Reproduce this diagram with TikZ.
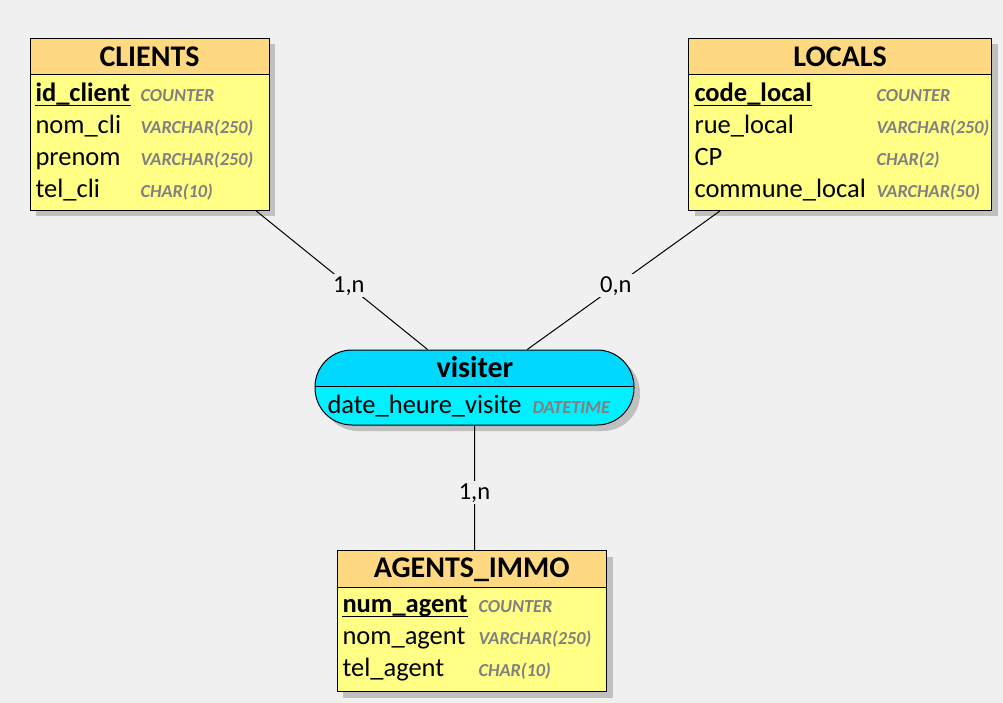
\documentclass[tikz,border=0pt]{standalone}
\usepackage{fontspec}
\setmainfont{Carlito}
\usetikzlibrary{shadows}

\definecolor{bgcolor}{HTML}{F0F0F0}
\definecolor{headorange}{HTML}{FFD982}
\definecolor{bodyyellow}{HTML}{FFFF86}
\definecolor{relhead}{HTML}{00D8FF}
\definecolor{relbody}{HTML}{00F0FF}
\definecolor{shadowgray}{HTML}{C0C0C0}
\definecolor{typegray}{HTML}{808080}

\begin{document}
\begin{tikzpicture}[x=1pt,y=-1pt,line width=1pt,
    shade/.style={drop shadow={shadow xshift=6pt, shadow yshift=-6pt, fill=shadowgray, opacity=1}},
    entity/.style={draw, fill=bodyyellow, shade,
        path picture={
            \fill[headorange, sharp corners] (path picture bounding box.north west) rectangle ([yshift=-36.5pt]path picture bounding box.north east);
            \draw[sharp corners] ([yshift=-36.5pt]path picture bounding box.north west) -- ([yshift=-36.5pt]path picture bounding box.north east);}},
    relation/.style={draw, fill=relbody, rounded corners=37pt, shade,
        path picture={
            \fill[relhead, sharp corners] (path picture bounding box.north west) rectangle ([yshift=-36.5pt]path picture bounding box.north east);
            \draw[sharp corners] ([yshift=-36.5pt]path picture bounding box.north west) -- ([yshift=-36.5pt]path picture bounding box.north east);}},
    title/.style={anchor=base, inner sep=0pt, font=\fontsize{30}{32}\selectfont\bfseries},
    attr/.style={anchor=base west, inner sep=0pt, font=\fontsize{26.5}{29}\selectfont},
    key/.style={attr, font=\fontsize{26.5}{29}\selectfont\bfseries},
    type/.style={anchor=base west, inner sep=0pt, text=typegray, font=\fontsize{18.3}{20}\selectfont\bfseries\itshape},
    card/.style={fill=bgcolor, inner sep=2pt, pos=.54, font=\fontsize{24.5}{26}\selectfont}]

    \fill[bgcolor] (0,0) rectangle (1003,703);
    \useasboundingbox (0,0) rectangle (1003,703);

    % CLIENTS
    \node[entity, minimum width=239pt, minimum height=172pt] (clients) at (149.5,124.5) {};
    \node[title] (clients-title) at (149.5,67) {CLIENTS};
    \node[key]  (id-client) at (35,102) {id\_client};
    \node[attr] (nom-cli) at ([yshift=-32pt]id-client.base west) {nom\_cli};
    \node[attr] (prenom)  at ([yshift=-32pt]nom-cli.base west) {prenom};
    \node[attr] (tel-cli) at ([yshift=-32pt]prenom.base west) {tel\_cli};
    \node[type] (id-client-t) at (140,102) {COUNTER};
    \node[type] (nom-cli-t) at ([yshift=-32pt]id-client-t.base west) {VARCHAR(250)};
    \node[type] (prenom-t)  at ([yshift=-32pt]nom-cli-t.base west) {VARCHAR(250)};
    \node[type] (tel-cli-t) at ([yshift=-32pt]prenom-t.base west) {CHAR(10)};
    \draw ([yshift=-4pt]id-client.base west) -- ([yshift=-4pt]id-client.base east);

    % LOCALS
    \node[entity, minimum width=303pt, minimum height=172pt] (locals) at (840,124.5) {};
    \node[title] (locals-title) at (840,67) {LOCALS};
    \node[key]  (code-local) at (694,102) {code\_local};
    \node[attr] (rue-local) at ([yshift=-32pt]code-local.base west) {rue\_local};
    \node[attr] (cp)        at ([yshift=-32pt]rue-local.base west) {CP};
    \node[attr] (commune-local) at ([yshift=-32pt]cp.base west) {commune\_local};
    \node[type] (code-local-t) at (876,102) {COUNTER};
    \node[type] (rue-local-t) at ([yshift=-32pt]code-local-t.base west) {VARCHAR(250)};
    \node[type] (cp-t)        at ([yshift=-32pt]rue-local-t.base west) {CHAR(2)};
    \node[type] (commune-local-t) at ([yshift=-32pt]cp-t.base west) {VARCHAR(50)};
    \draw ([yshift=-4pt]code-local.base west) -- ([yshift=-4pt]code-local.base east);

    % AGENTS_IMMO
    \node[entity, minimum width=269.5pt, minimum height=141pt] (agents) at (471.75,621) {};
    \node[title] (agents-title) at (471.75,577) {AGENTS\_IMMO};
    \node[key]  (num-agent) at (342,612) {num\_agent};
    \node[attr] (nom-agent) at ([yshift=-32pt]num-agent.base west) {nom\_agent};
    \node[attr] (tel-agent) at ([yshift=-32pt]nom-agent.base west) {tel\_agent};
    \node[type] (num-agent-t) at (478,612) {COUNTER};
    \node[type] (nom-agent-t) at ([yshift=-32pt]num-agent-t.base west) {VARCHAR(250)};
    \node[type] (tel-agent-t) at ([yshift=-32pt]nom-agent-t.base west) {CHAR(10)};
    \draw ([yshift=-4pt]num-agent.base west) -- ([yshift=-4pt]num-agent.base east);

    % visiter
    \node[relation, minimum width=319pt, minimum height=75pt] (visiter) at (474.5,387.5) {};
    \node[title] (visiter-title) at (475,377) {visiter};
    \node[attr] (date-heure-visite) at (327,413) {date\_heure\_visite};
    \node[type] (date-heure-visite-t) at (532,413) {DATETIME};

    \draw (clients) -- node[card] (card-clients) {1,n} (visiter)
          (locals)  -- node[card] (card-locals)  {0,n} (visiter)
          (visiter.south) -- node[card] (card-agents) {1,n} (visiter.south |- agents.north);
\end{tikzpicture}
\end{document}
